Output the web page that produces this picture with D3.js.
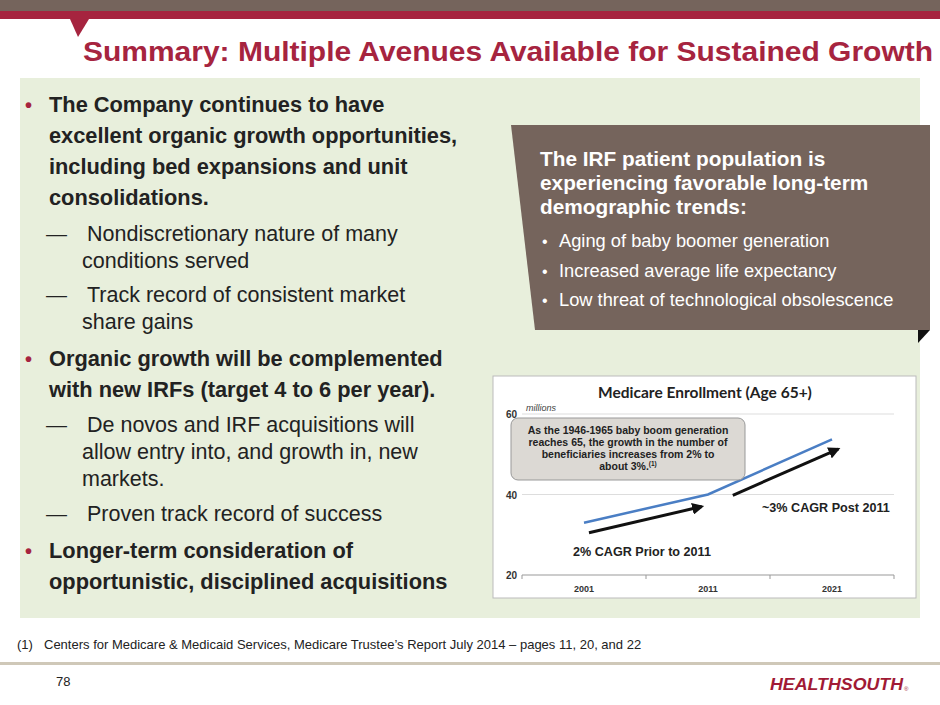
<!DOCTYPE html>
<html><head><meta charset="utf-8">
<script src="https://cdn.jsdelivr.net/npm/d3@7"></script>
<style>body{margin:0;background:#fff}svg{display:block;font-family:Arial,"Liberation Sans",sans-serif}</style>
</head><body><svg id="s" width="940" height="705"></svg>
<script>
const years = [2001, 2011, 2021];
const enrollment = [33, 40, 53.7];
const yTicks = [20, 40, 60];
const arrows = [[[2001.4, 30.5], [2010.5, 37]], [[2013, 39.8], [2021.5, 51.3]]];

const svg = d3.select("#s");
const red = "#a6243f";
svg.append("rect").attr("width",940).attr("height",11).attr("fill","#75645c");
svg.append("rect").attr("y",11).attr("width",940).attr("height",8).attr("fill",red);
svg.append("path").attr("d","M70,19 L89,19 L78,37 Z").attr("fill",red);
svg.append("text").attr("x",83).attr("y",61).attr("font-size",28).attr("font-weight","bold").attr("fill",red)
  .attr("textLength",850).attr("lengthAdjust","spacingAndGlyphs").text("Summary: Multiple Avenues Available for Sustained Growth");
svg.append("rect").attr("x",20).attr("y",78).attr("width",900).attr("height",540).attr("fill","#e8efdc");

// left text
const L = [
 {t:"b",y:112,s:"The Company continues to have"},{t:"c",y:143,s:"excellent organic growth opportunities,"},
 {t:"c",y:174,s:"including bed expansions and unit"},{t:"c",y:205,s:"consolidations."},
 {t:"d",y:241,s:"Nondiscretionary nature of many"},{t:"e",y:268,s:"conditions served"},
 {t:"d",y:302,s:"Track record of consistent market"},{t:"e",y:329,s:"share gains"},
 {t:"b",y:366,s:"Organic growth will be complemented"},{t:"c",y:397,s:"with new IRFs (target 4 to 6 per year)."},
 {t:"d",y:432,s:"De novos and IRF acquisitions will"},{t:"e",y:459,s:"allow entry into, and growth in, new"},{t:"e",y:486,s:"markets."},
 {t:"d",y:521,s:"Proven track record of success"},
 {t:"b",y:558,s:"Longer-term consideration of"},{t:"c",y:589,s:"opportunistic, disciplined acquisitions"}];
L.forEach(l=>{
  const bold = l.t=="b"||l.t=="c";
  if(l.t=="b") svg.append("text").attr("x",25).attr("y",l.y).attr("font-size",20).attr("font-weight","bold").attr("fill",red).text("•");
  if(l.t=="d") svg.append("text").attr("x",46).attr("y",l.y).attr("font-size",21).attr("fill","#222").text("—");
  svg.append("text").attr("x",bold?49:(l.t=="d"?87:82)).attr("y",l.y).attr("font-size",bold?21.8:21.5)
    .attr("font-weight",bold?"bold":"normal").attr("fill","#222").text(l.s);
});

// callout
svg.append("path").attr("d","M511,125 L930,125 L930,330 L535,330 Z").attr("fill","#75645c");
svg.append("path").attr("d","M918,330 L930,330 L918,343 Z").attr("fill","#111");
["The IRF patient population is","experiencing favorable long-term","demographic trends:"].forEach((s,i)=>
  svg.append("text").attr("x",540).attr("y",166+i*24).attr("font-size",20.8).attr("font-weight","bold").attr("fill","#fff").text(s));
["Aging of baby boomer generation","Increased average life expectancy","Low threat of technological obsolescence"].forEach((s,i)=>{
  svg.append("text").attr("x",542).attr("y",247+i*29.5).attr("font-size",16).attr("fill","#fff").text("•");
  svg.append("text").attr("x",559).attr("y",247+i*29.5).attr("font-size",18.3).attr("fill","#fff").text(s);
});

// chart
svg.append("rect").attr("x",493).attr("y",376).attr("width",423).attr("height",222).attr("fill","#fff").attr("stroke","#bbb");
const x = d3.scaleLinear().domain([2001,2021]).range([584,832]);
const y = d3.scaleLinear().domain([20,60]).range([575,414]);
svg.append("g").selectAll("line").data(yTicks).join("line").attr("x1",522).attr("x2",894)
  .attr("y1",d=>y(d)).attr("y2",d=>y(d)).attr("stroke",d=>d==20?"#999":"#ddd");
svg.append("g").selectAll("line").data([1996,2006,2016,2026]).join("line").attr("x1",d=>x(d)).attr("x2",d=>x(d))
  .attr("y1",y(20)).attr("y2",y(20)+4).attr("stroke","#999");
svg.append("g").selectAll("text").data(yTicks).join("text").attr("x",517).attr("y",d=>y(d)+4).attr("text-anchor","end")
  .attr("font-size",10).attr("font-weight","bold").attr("fill","#333").text(d=>d);
svg.append("g").selectAll("text").data(years).join("text").attr("x",d=>x(d)).attr("y",592).attr("text-anchor","middle")
  .attr("font-size",9).attr("font-weight","bold").attr("fill","#333").text(d=>d);
svg.append("text").attr("x",705).attr("y",398).attr("text-anchor","middle").attr("font-size",15.5).attr("font-weight","bold")
  .attr("fill","#222").attr("font-family","Lato,'Open Sans',sans-serif").text("Medicare Enrollment (Age 65+)");
svg.append("text").attr("x",526).attr("y",411).attr("font-size",9).attr("font-style","italic").attr("fill","#444").text("millions");
svg.append("path").datum(years.map((d,i)=>[d,enrollment[i]])).attr("d",d3.line().x(d=>x(d[0])).y(d=>y(d[1])))
  .attr("fill","none").attr("stroke","#4a7ec4").attr("stroke-width",2.5);
svg.append("defs").append("marker").attr("id","ah").attr("viewBox","0 0 10 10").attr("refX",8).attr("refY",5)
  .attr("markerWidth",4).attr("markerHeight",4).attr("orient","auto").append("path").attr("d","M0,0 L10,5 L0,10 Z").attr("fill","#111");
arrows.forEach(a=>svg.append("line").attr("x1",x(a[0][0])).attr("y1",y(a[0][1])).attr("x2",x(a[1][0])).attr("y2",y(a[1][1]))
  .attr("stroke","#111").attr("stroke-width",3).attr("marker-end","url(#ah)"));
svg.append("text").attr("x",573).attr("y",556).attr("font-size",12.6).attr("font-weight","bold").attr("fill","#222").text("2% CAGR Prior to 2011");
svg.append("text").attr("x",762).attr("y",512).attr("font-size",12.6).attr("font-weight","bold").attr("fill","#222").text("~3% CAGR Post 2011");
svg.append("rect").attr("x",511).attr("y",418).attr("width",234).attr("height",62).attr("rx",7).attr("fill","#dcd9d4").attr("stroke","#999");
["As the 1946-1965 baby boom generation","reaches 65, the growth in the number of","beneficiaries increases from 2% to"].forEach((s,i)=>
  svg.append("text").attr("x",628).attr("y",434+i*12).attr("text-anchor","middle").attr("font-size",10.5).attr("font-weight","bold").attr("fill","#222").text(s));
const t4 = svg.append("text").attr("x",628).attr("y",470).attr("text-anchor","middle").attr("font-size",10.5).attr("font-weight","bold").attr("fill","#222");
t4.append("tspan").text("about 3%.");t4.append("tspan").attr("font-size",6.5).attr("dy",-4).text("(1)");

// footer
svg.append("text").attr("x",17).attr("y",649).attr("font-size",13).attr("fill","#222").text("(1)");
svg.append("text").attr("x",44).attr("y",649).attr("font-size",13).attr("fill","#222")
  .text("Centers for Medicare & Medicaid Services, Medicare Trustee’s Report July 2014 – pages 11, 20, and 22");
svg.append("rect").attr("y",662).attr("width",940).attr("height",3).attr("fill","#cfc8b8");
svg.append("text").attr("x",56).attr("y",686).attr("font-size",13).attr("fill","#222").text("78");
svg.append("text").attr("x",770).attr("y",690).attr("font-size",17).attr("font-weight","900").attr("font-style","italic")
  .attr("fill","#a11a35").attr("textLength",133).attr("lengthAdjust","spacingAndGlyphs").text("HEALTHSOUTH");
svg.append("text").attr("x",904).attr("y",691).attr("font-size",6).attr("fill","#a11a35").text("®");
</script></body></html>
